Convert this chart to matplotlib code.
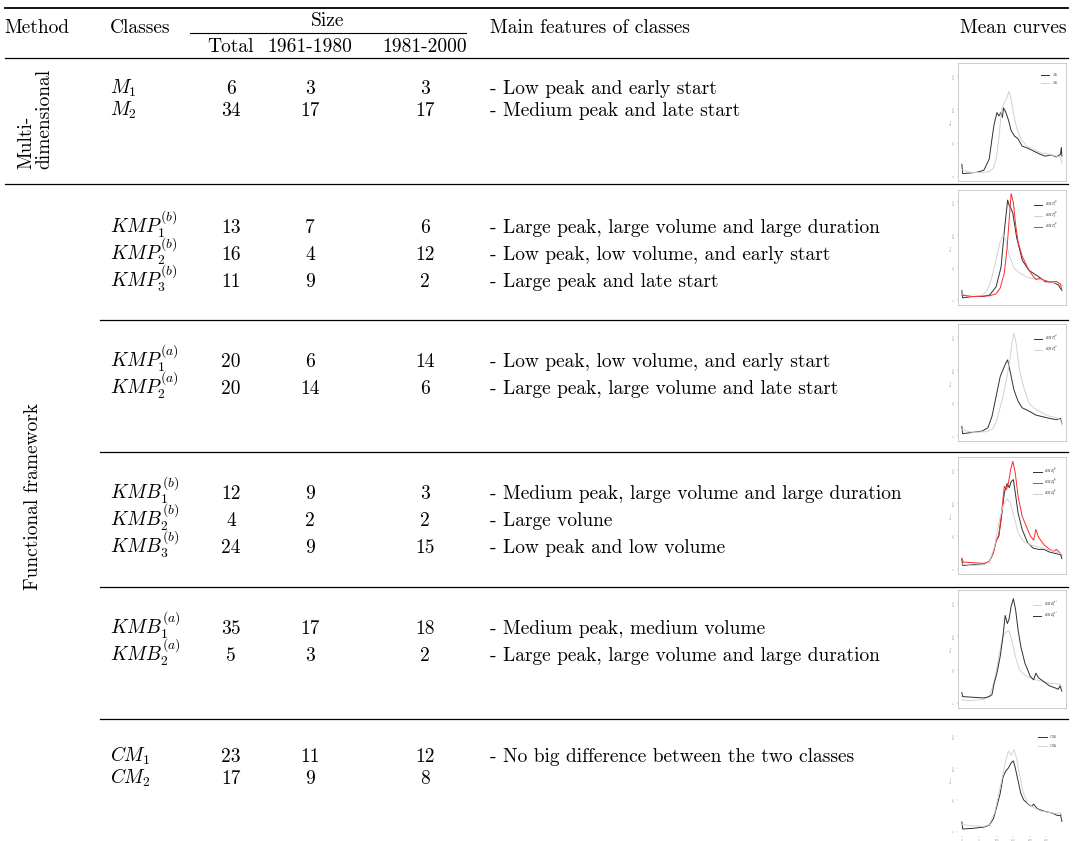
import matplotlib
matplotlib.use('Agg')
import matplotlib.pyplot as plt

plt.rcParams['font.family'] = 'serif'
plt.rcParams['font.serif'] = ['cmr10']
plt.rcParams['mathtext.fontset'] = 'cm'
plt.rcParams['axes.unicode_minus'] = False

# table content
classes = [
    ['$M_1$', '$M_2$'],
    ['$KMP_1^{(b)}$', '$KMP_2^{(b)}$', '$KMP_3^{(b)}$'],
    ['$KMP_1^{(a)}$', '$KMP_2^{(a)}$'],
    ['$KMB_1^{(b)}$', '$KMB_2^{(b)}$', '$KMB_3^{(b)}$'],
    ['$KMB_1^{(a)}$', '$KMB_2^{(a)}$'],
    ['$CM_1$', '$CM_2$'],
]
totals = [[6, 34], [13, 16, 11], [20, 20], [12, 4, 24], [35, 5], [23, 17]]
size_6180 = [[3, 17], [7, 4, 9], [6, 14], [9, 2, 9], [17, 3], [11, 9]]
size_8100 = [[3, 17], [6, 12, 2], [14, 6], [3, 2, 15], [18, 2], [12, 8]]
features = [
    ['- Low peak and early start', '- Medium peak and late start'],
    ['- Large peak, large volume and large duration',
     '- Low peak, low volume, and early start',
     '- Large peak and late start'],
    ['- Low peak, low volume, and early start',
     '- Large peak, large volume and late start'],
    ['- Medium peak, large volume and large duration',
     '- Large volune',
     '- Low peak and low volume'],
    ['- Medium peak, medium volume',
     '- Large peak, large volume and large duration'],
    ['- No big difference between the two classes'],
]

# mean curves (day, value)
m1 = [(0, 180), (3, 40), (30, 50), (55, 60), (80, 90), (90, 170), (100, 260), (110, 560),
      (118, 780), (128, 950), (135, 900), (142, 950), (148, 880), (152, 1020), (160, 960),
      (170, 840), (180, 680), (192, 600), (205, 560), (220, 450), (240, 420), (260, 380),
      (285, 330), (305, 300), (325, 320), (345, 290), (360, 330), (363, 430), (365, 300)]
m2 = [(0, 100), (30, 60), (70, 55), (100, 70), (115, 120), (125, 250), (135, 560), (145, 1000),
      (155, 1100), (165, 1180), (172, 1270), (180, 1150), (190, 900), (200, 720), (215, 560),
      (235, 460), (260, 400), (290, 350), (320, 330), (345, 300), (360, 290), (365, 200)]

kmp1b = [(0, 150), (3, 40), (40, 60), (78, 60), (102, 85), (125, 210), (143, 510), (155, 1060),
         (167, 1535), (173, 1450), (179, 1410), (186, 1335), (200, 960), (221, 610), (245, 460),
         (263, 410), (281, 360), (305, 285), (329, 285), (353, 235), (359, 185), (365, 160)]
kmp2b = [(0, 100), (30, 60), (70, 70), (90, 130), (108, 330), (125, 620), (140, 900), (150, 1010),
         (160, 930), (172, 700), (190, 500), (210, 420), (240, 350), (270, 330), (300, 310),
         (330, 280), (355, 260), (365, 220)]
kmp3b = [(0, 80), (40, 60), (100, 70), (125, 100), (140, 190), (155, 420), (165, 800), (172, 1200),
         (180, 1635), (188, 1500), (195, 1200), (205, 900), (220, 680), (240, 500), (255, 400),
         (270, 320), (285, 340), (300, 310), (320, 280), (345, 290), (360, 250), (365, 150)]

kmp1a = [(0, 150), (3, 40), (40, 60), (75, 80), (95, 130), (110, 300), (125, 600), (140, 900),
         (150, 1000), (160, 1100), (167, 1150), (175, 1000), (190, 700), (205, 530), (220, 430),
         (245, 380), (270, 320), (300, 290), (320, 270), (345, 250), (360, 270), (365, 190)]
kmp2a = [(0, 100), (40, 60), (90, 70), (115, 120), (130, 280), (150, 600), (165, 900), (175, 1150),
         (183, 1400), (190, 1550), (198, 1400), (210, 1000), (225, 750), (245, 500), (265, 420),
         (290, 360), (320, 300), (345, 280), (360, 250), (365, 170)]

kmb1b = [(0, 150), (3, 60), (40, 70), (80, 80), (100, 120), (115, 250), (125, 430), (135, 500),
         (145, 800), (155, 1150), (165, 1290), (173, 1230), (180, 1320), (188, 1350), (195, 1150),
         (205, 850), (220, 600), (240, 400), (260, 320), (280, 300), (300, 300), (320, 260),
         (340, 240), (360, 220), (365, 160)]
kmb2b = [(0, 170), (5, 110), (40, 100), (80, 90), (100, 110), (115, 250), (125, 420), (135, 520),
         (145, 850), (155, 1250), (163, 1200), (170, 1300), (178, 1500), (186, 1625), (195, 1450),
         (205, 1100), (220, 800), (235, 650), (250, 500), (262, 440), (270, 600), (280, 480),
         (300, 370), (320, 300), (335, 270), (345, 300), (360, 240), (365, 200)]
kmb3b = [(0, 80), (40, 60), (80, 70), (100, 110), (120, 350), (135, 700), (150, 950), (165, 1060),
         (175, 1020), (190, 800), (205, 550), (225, 420), (250, 370), (280, 340), (310, 300),
         (340, 260), (360, 240), (365, 220)]

kmb1a = [(0, 50), (30, 40), (80, 60), (100, 100), (120, 350), (135, 700), (150, 1000), (160, 1060),
         (172, 1080), (182, 950), (195, 700), (210, 500), (230, 420), (260, 360), (290, 330),
         (320, 300), (345, 290), (360, 280), (365, 240)]
kmb2a = [(0, 160), (3, 100), (40, 90), (80, 80), (100, 100), (110, 130), (118, 300), (128, 450),
         (140, 700), (150, 1000), (158, 1310), (166, 1190), (172, 1250), (180, 1450), (188, 1560),
         (196, 1400), (205, 1100), (215, 850), (230, 600), (250, 400), (262, 350), (270, 450),
         (280, 380), (300, 320), (320, 260), (340, 230), (352, 210), (358, 260), (365, 180)]

cm1 = [(0, 150), (3, 40), (40, 50), (80, 70), (100, 100), (115, 200), (125, 350), (140, 600),
       (150, 850), (160, 950), (170, 1000), (180, 1080), (188, 1110), (195, 1000), (205, 800),
       (215, 600), (225, 500), (245, 420), (255, 400), (262, 430), (275, 360), (300, 320),
       (330, 290), (350, 250), (360, 260), (365, 160)]
cm2 = [(0, 110), (40, 90), (80, 80), (100, 110), (120, 300), (135, 600), (150, 900), (162, 1150),
       (170, 1265), (180, 1200), (190, 1285), (200, 1150), (210, 900), (225, 600), (240, 450),
       (260, 380), (290, 320), (320, 300), (345, 280), (360, 300), (365, 250)]

DARK, LIGHT, RED = '#303030', '#d2d2d2', '#ff2a2a'
thumbs = [
    [(m1, DARK, '$M_1$'), (m2, LIGHT, '$M_2$')],
    [(kmp1b, DARK, '$KMP_1^{(b)}$'), (kmp2b, LIGHT, '$KMP_2^{(b)}$'), (kmp3b, RED, '$KMP_3^{(b)}$')],
    [(kmp1a, DARK, '$KMP_1^{(a)}$'), (kmp2a, LIGHT, '$KMP_2^{(a)}$')],
    [(kmb1b, DARK, '$KMB_1^{(b)}$'), (kmb2b, RED, '$KMB_2^{(b)}$'), (kmb3b, LIGHT, '$KMB_3^{(b)}$')],
    [(kmb1a, LIGHT, '$KMB_1^{(a)}$'), (kmb2a, DARK, '$KMB_2^{(a)}$')],
    [(cm1, DARK, '$CM_1$'), (cm2, LIGHT, '$CM_2$')],
]

W, H = 1073, 841
fig = plt.figure(figsize=(W / 100, H / 100), dpi=100)
ax = fig.add_axes([0, 0, 1, 1])
ax.set_xlim(0, W)
ax.set_ylim(H, 0)
ax.axis('off')

FS = 14
# rules
ax.plot([5, 1068], [8, 8], color='k', lw=1.3)
ax.plot([190, 466], [33, 33], color='k', lw=0.8)
ax.plot([5, 1068], [58, 58], color='k', lw=0.9)
ax.plot([5, 1068], [184, 184], color='k', lw=0.9)
for yy in [320, 452, 587, 719]:
    ax.plot([100, 1068], [yy, yy], color='k', lw=0.9)

# header
ax.text(37, 33, 'Method', ha='center', va='baseline', fontsize=FS)
ax.text(110, 33, 'Classes', ha='left', va='baseline', fontsize=FS)
ax.text(328, 26, 'Size', ha='center', va='baseline', fontsize=FS)
ax.text(231, 52, 'Total', ha='center', va='baseline', fontsize=FS)
ax.text(310, 52, '1961-1980', ha='center', va='baseline', fontsize=FS)
ax.text(425, 52, '1981-2000', ha='center', va='baseline', fontsize=FS)
ax.text(490, 33, 'Main features of classes', ha='left', va='baseline', fontsize=FS)
ax.text(1066, 33, 'Mean curves', ha='right', va='baseline', fontsize=FS)

ax.text(35, 119, 'Multi-\ndimensional', ha='center', va='center', rotation=90,
        fontsize=FS, linespacing=1.0, multialignment='left')
ax.text(33, 497, 'Functional framework', ha='center', va='center', rotation=90, fontsize=FS)

first_rows = [94, 233, 367, 499, 634, 762]
for g in range(len(classes)):
    step = 22 if g in (0, 5) else 27
    for i, lab in enumerate(classes[g]):
        y = first_rows[g] + i * step
        ax.text(110, y, lab, ha='left', va='baseline', fontsize=FS)
        ax.text(231, y, str(totals[g][i]), ha='center', va='baseline', fontsize=FS)
        ax.text(310, y, str(size_6180[g][i]), ha='center', va='baseline', fontsize=FS)
        ax.text(425, y, str(size_8100[g][i]), ha='center', va='baseline', fontsize=FS)
    for i, txt in enumerate(features[g]):
        ax.text(490, first_rows[g] + i * step, txt, ha='left', va='baseline', fontsize=FS)

boxes = [(63, 181), (190, 305), (324, 441), (457, 574), (590, 708), (724, 836)]
x0, x1 = 958, 1066
for g, (top, bot) in enumerate(boxes):
    tax = fig.add_axes([x0 / W, 1 - bot / H, (x1 - x0) / W, (bot - top) / H])
    for curve, col, lab in thumbs[g]:
        days = [p[0] for p in curve]
        vals = [p[1] for p in curve]
        tax.plot(days, vals, color=col, lw=0.7, label=lab)
    tax.set_xlim(-14, 380)
    tax.set_ylim(-70, 1690)
    tax.set_yticks([0, 500, 1000, 1500])
    tax.set_yticklabels(['0', '500', '1000', '1500'], rotation=90, va='center')
    tax.tick_params(axis='y', labelsize=2.2, length=1, width=0.3, pad=1, colors='#888888')
    tax.set_ylabel('Flow', fontsize=2.2, color='#888888', labelpad=1)
    if g == 5:
        tax.set_xticks([0, 64, 128, 187, 248, 308])
        tax.set_xticklabels(['0', '50', '100', '150', '200', '250'])
        tax.tick_params(axis='x', labelsize=2.2, length=1, width=0.3, pad=1, colors='#888888')
        for s in ['top', 'right', 'left', 'bottom']:
            tax.spines[s].set_visible(False)
    else:
        tax.set_xticks([])
        for s in tax.spines.values():
            s.set_color('#c4c4c4')
            s.set_linewidth(0.6)
    tax.patch.set_alpha(0)
    tax.legend(loc='upper right', fontsize=2.4, frameon=False, handlelength=2.5,
               labelspacing=0.2, borderaxespad=2)

fig.savefig('out.png', dpi=100)
